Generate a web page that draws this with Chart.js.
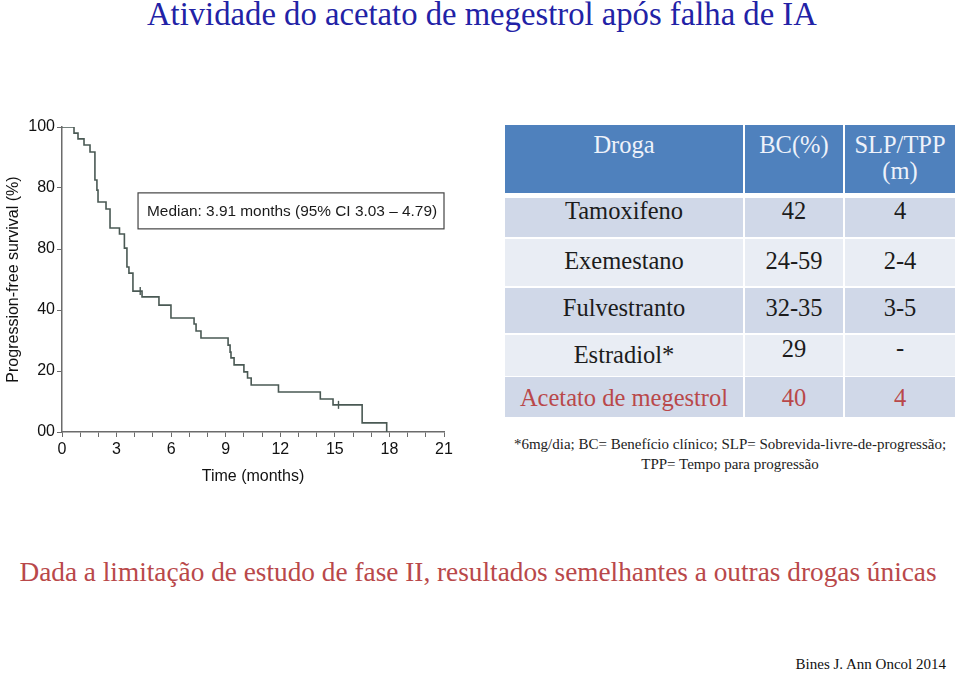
<!DOCTYPE html>
<html lang="pt">
<head>
<meta charset="UTF-8">
<title>Atividade do acetato de megestrol após falha de IA</title>
<script src="https://cdn.jsdelivr.net/npm/chart.js"></script>
<style>
  body { margin:0; width:960px; height:678px; background:#fff; position:relative; overflow:hidden;
         font-family:"Liberation Serif", "DejaVu Serif", serif; }
  .abs { position:absolute; white-space:nowrap; }
  #title { left:147px; top:-4px; font-size:32.7px; color:#2222a6; }
  #kmWrap { position:absolute; left:0; top:110px; width:470px; height:380px; }
  .cell { position:absolute; text-align:center; font-family:"Liberation Serif", serif; font-size:24.5px; line-height:26px; color:#1c1c1c; box-sizing:border-box; }
  .head { background:#4f81bd; color:#eef2fa; }
  .dark { background:#d0d8e8; }
  .light { background:#e9edf4; }
  .red { color:#b9484a; }
  #note { left:505px; width:450px; top:434px; font-size:15px; line-height:20px; text-align:center; color:#222; }
  #bottom { left:0; width:956px; top:557px; font-size:27.3px; text-align:center; color:#b9484a; }
  #ref { right:14px; top:656px; font-size:15px; color:#111; }
</style>
</head>
<body>
  <div id="title" class="abs">Atividade do acetato de megestrol após falha de IA</div>

  <div id="kmWrap"><canvas id="km" width="470" height="380"></canvas></div>

  <div id="tbl"></div>

  <div id="note" class="abs">*6mg/dia; BC= Benefício clínico; SLP= Sobrevida-livre-de-progressão;<br>TPP= Tempo para progressão</div>
  <div id="bottom" class="abs">Dada a limitação de estudo de fase II, resultados semelhantes a outras drogas únicas</div>
  <div id="ref" class="abs">Bines J. Ann Oncol 2014</div>

<script>
  // Kaplan-Meier curve
  const kmTimes    = [0, 0.66, 0.88, 1.21, 1.54, 1.81, 1.92, 1.98, 2.42, 2.64, 3.16, 3.43, 3.57, 3.68, 3.90, 4.40, 5.33, 5.99, 7.26, 7.37, 7.64, 9.13, 9.24, 9.29, 9.46, 10.0, 10.2, 10.4, 11.9, 14.2, 14.9, 16.5, 17.85];
  const kmSurvival = [100, 98.0, 96.1, 94.1, 91.8, 82.6, 79.3, 75.4, 73.1, 66.9, 64.9, 60.3, 54.1, 52.1, 46.2, 44.3, 41.6, 37.4, 35.4, 33.1, 30.8, 28.5, 26.2, 24.3, 22.0, 19.7, 17.7, 15.4, 13.1, 10.8, 8.9, 3.0, 0];
  const censorTimes    = [4.30, 15.2];
  const censorSurvival = [46.2, 8.9];

  const xTicks = [0, 3, 6, 9, 12, 15, 18, 21];
  const yTicks = [0, 20, 40, 60, 80, 100];
  const yTickLabels = ['00', '20', '40', '80', '80', '100'];   // as printed in the figure
  const medianText = 'Median: 3.91 months (95% CI 3.03 \u2013 4.79)';

  // table
  const tableHeader = ['Droga', 'BC(%)', 'SLP/TPP<br>(m)'];
  const drugNames = ['Tamoxifeno', 'Exemestano', 'Fulvestranto', 'Estradiol*', 'Acetato de megestrol'];
  const bcValues  = ['42', '24-59', '32-35', '29', '40'];
  const slpValues = ['4', '2-4', '3-5', '-', '4'];

  // build the table
  const cols = [[505, 238], [745, 98], [845, 110]];
  const rowTop = [198, 239, 288, 335, 377];
  const rowH = [39, 47, 45, 41, 40];
  const rowText = [210, 261, 308, 355, 398];
  const tbl = document.getElementById('tbl');
  function cell(html, col, top, h, center, cls) {
    const d = document.createElement('div');
    d.className = 'cell ' + cls;
    d.style.left = cols[col][0] + 'px';
    d.style.width = cols[col][1] + 'px';
    d.style.top = top + 'px';
    d.style.height = h + 'px';
    d.style.paddingTop = (center - top - 13) + 'px';
    d.innerHTML = html;
    tbl.appendChild(d);
  }
  tableHeader.forEach((h, i) => cell(h, i, 125, 68, 145, 'head'));
  drugNames.forEach((name, r) => {
    const shade = r % 2 === 0 ? 'dark' : 'light';
    const red = r === drugNames.length - 1 ? ' red' : '';
    cell(name, 0, rowTop[r], rowH[r], rowText[r], shade + red);
    cell(bcValues[r], 1, rowTop[r], rowH[r], r === 3 ? rowText[r] - 6 : rowText[r], shade + red);
    cell(slpValues[r], 2, rowTop[r], rowH[r], r === 3 ? rowText[r] - 7 : rowText[r], shade + red);
  });

  // median annotation box
  const medianBox = {
    id: 'medianBox',
    afterDatasetsDraw(chart) {
      const { ctx, scales: { x, y } } = chart;
      const l = x.getPixelForValue(4.18), r = x.getPixelForValue(21);
      const t = y.getPixelForValue(78.4), b = y.getPixelForValue(66.6);
      ctx.save();
      ctx.fillStyle = '#fff';
      ctx.fillRect(l, t, r - l, b - t);
      ctx.strokeStyle = '#444';
      ctx.lineWidth = 1.2;
      ctx.strokeRect(l, t, r - l, b - t);
      ctx.fillStyle = '#1a1a1a';
      ctx.font = '15.4px "Liberation Sans", Arial, sans-serif';
      ctx.textBaseline = 'middle';
      ctx.fillText(medianText, l + 9, (t + b) / 2 + 1);
      ctx.restore();
    }
  };

  const axisColor = '#6b6b6b';
  const lineColor = '#4a5954';
  const tickFont = { family: '"Liberation Sans", Arial, sans-serif', size: 16 };

  new Chart(document.getElementById('km'), {
    type: 'line',
    data: {
      datasets: [{
        data: kmTimes.map((t, i) => ({ x: t, y: kmSurvival[i] })),
        stepped: true,
        borderColor: lineColor,
        borderWidth: 1.6,
        pointRadius: 0,
        fill: false
      }, {
        type: 'scatter',
        data: censorTimes.map((t, i) => ({ x: t, y: censorSurvival[i] })),
        pointStyle: 'line',
        rotation: 90,
        pointRadius: 4,
        borderColor: lineColor,
        borderWidth: 1.4
      }]
    },
    options: {
      responsive: false,
      animation: false,
      layout: { padding: { top: 17, right: 26, bottom: 0, left: 0 } },
      plugins: { legend: { display: false }, tooltip: { enabled: false } },
      scales: {
        x: {
          type: 'linear', min: 0, max: 21,
          afterFit: s => { s.height = 58; },
          afterBuildTicks: s => { s.ticks = Array.from({ length: 22 }, (_, i) => ({ value: i })); },
          border: { color: axisColor, width: 1.5 },
          grid: { drawOnChartArea: false, tickLength: 5, tickColor: axisColor },
          ticks: {
            autoSkip: false, maxRotation: 0, padding: 3, color: '#111', font: tickFont,
            callback: v => xTicks.includes(v) ? String(v) : ''
          },
          title: { display: true, text: 'Time (months)', color: '#111', font: tickFont, padding: { top: 2, bottom: 4 } }
        },
        y: {
          min: 0, max: 100,
          afterFit: s => { s.width = 62; },
          afterBuildTicks: s => { s.ticks = yTicks.map(v => ({ value: v })); },
          border: { color: axisColor, width: 1.5 },
          grid: { drawOnChartArea: false, tickLength: 5, tickColor: axisColor },
          ticks: {
            padding: 2, color: '#111', font: tickFont,
            callback: v => yTickLabels[yTicks.indexOf(v)]
          },
          title: { display: true, text: 'Progression-free survival (%)', color: '#111', font: tickFont, padding: { top: 4, bottom: 4 } }
        }
      }
    },
    plugins: [medianBox]
  });
</script>
</body>
</html>
